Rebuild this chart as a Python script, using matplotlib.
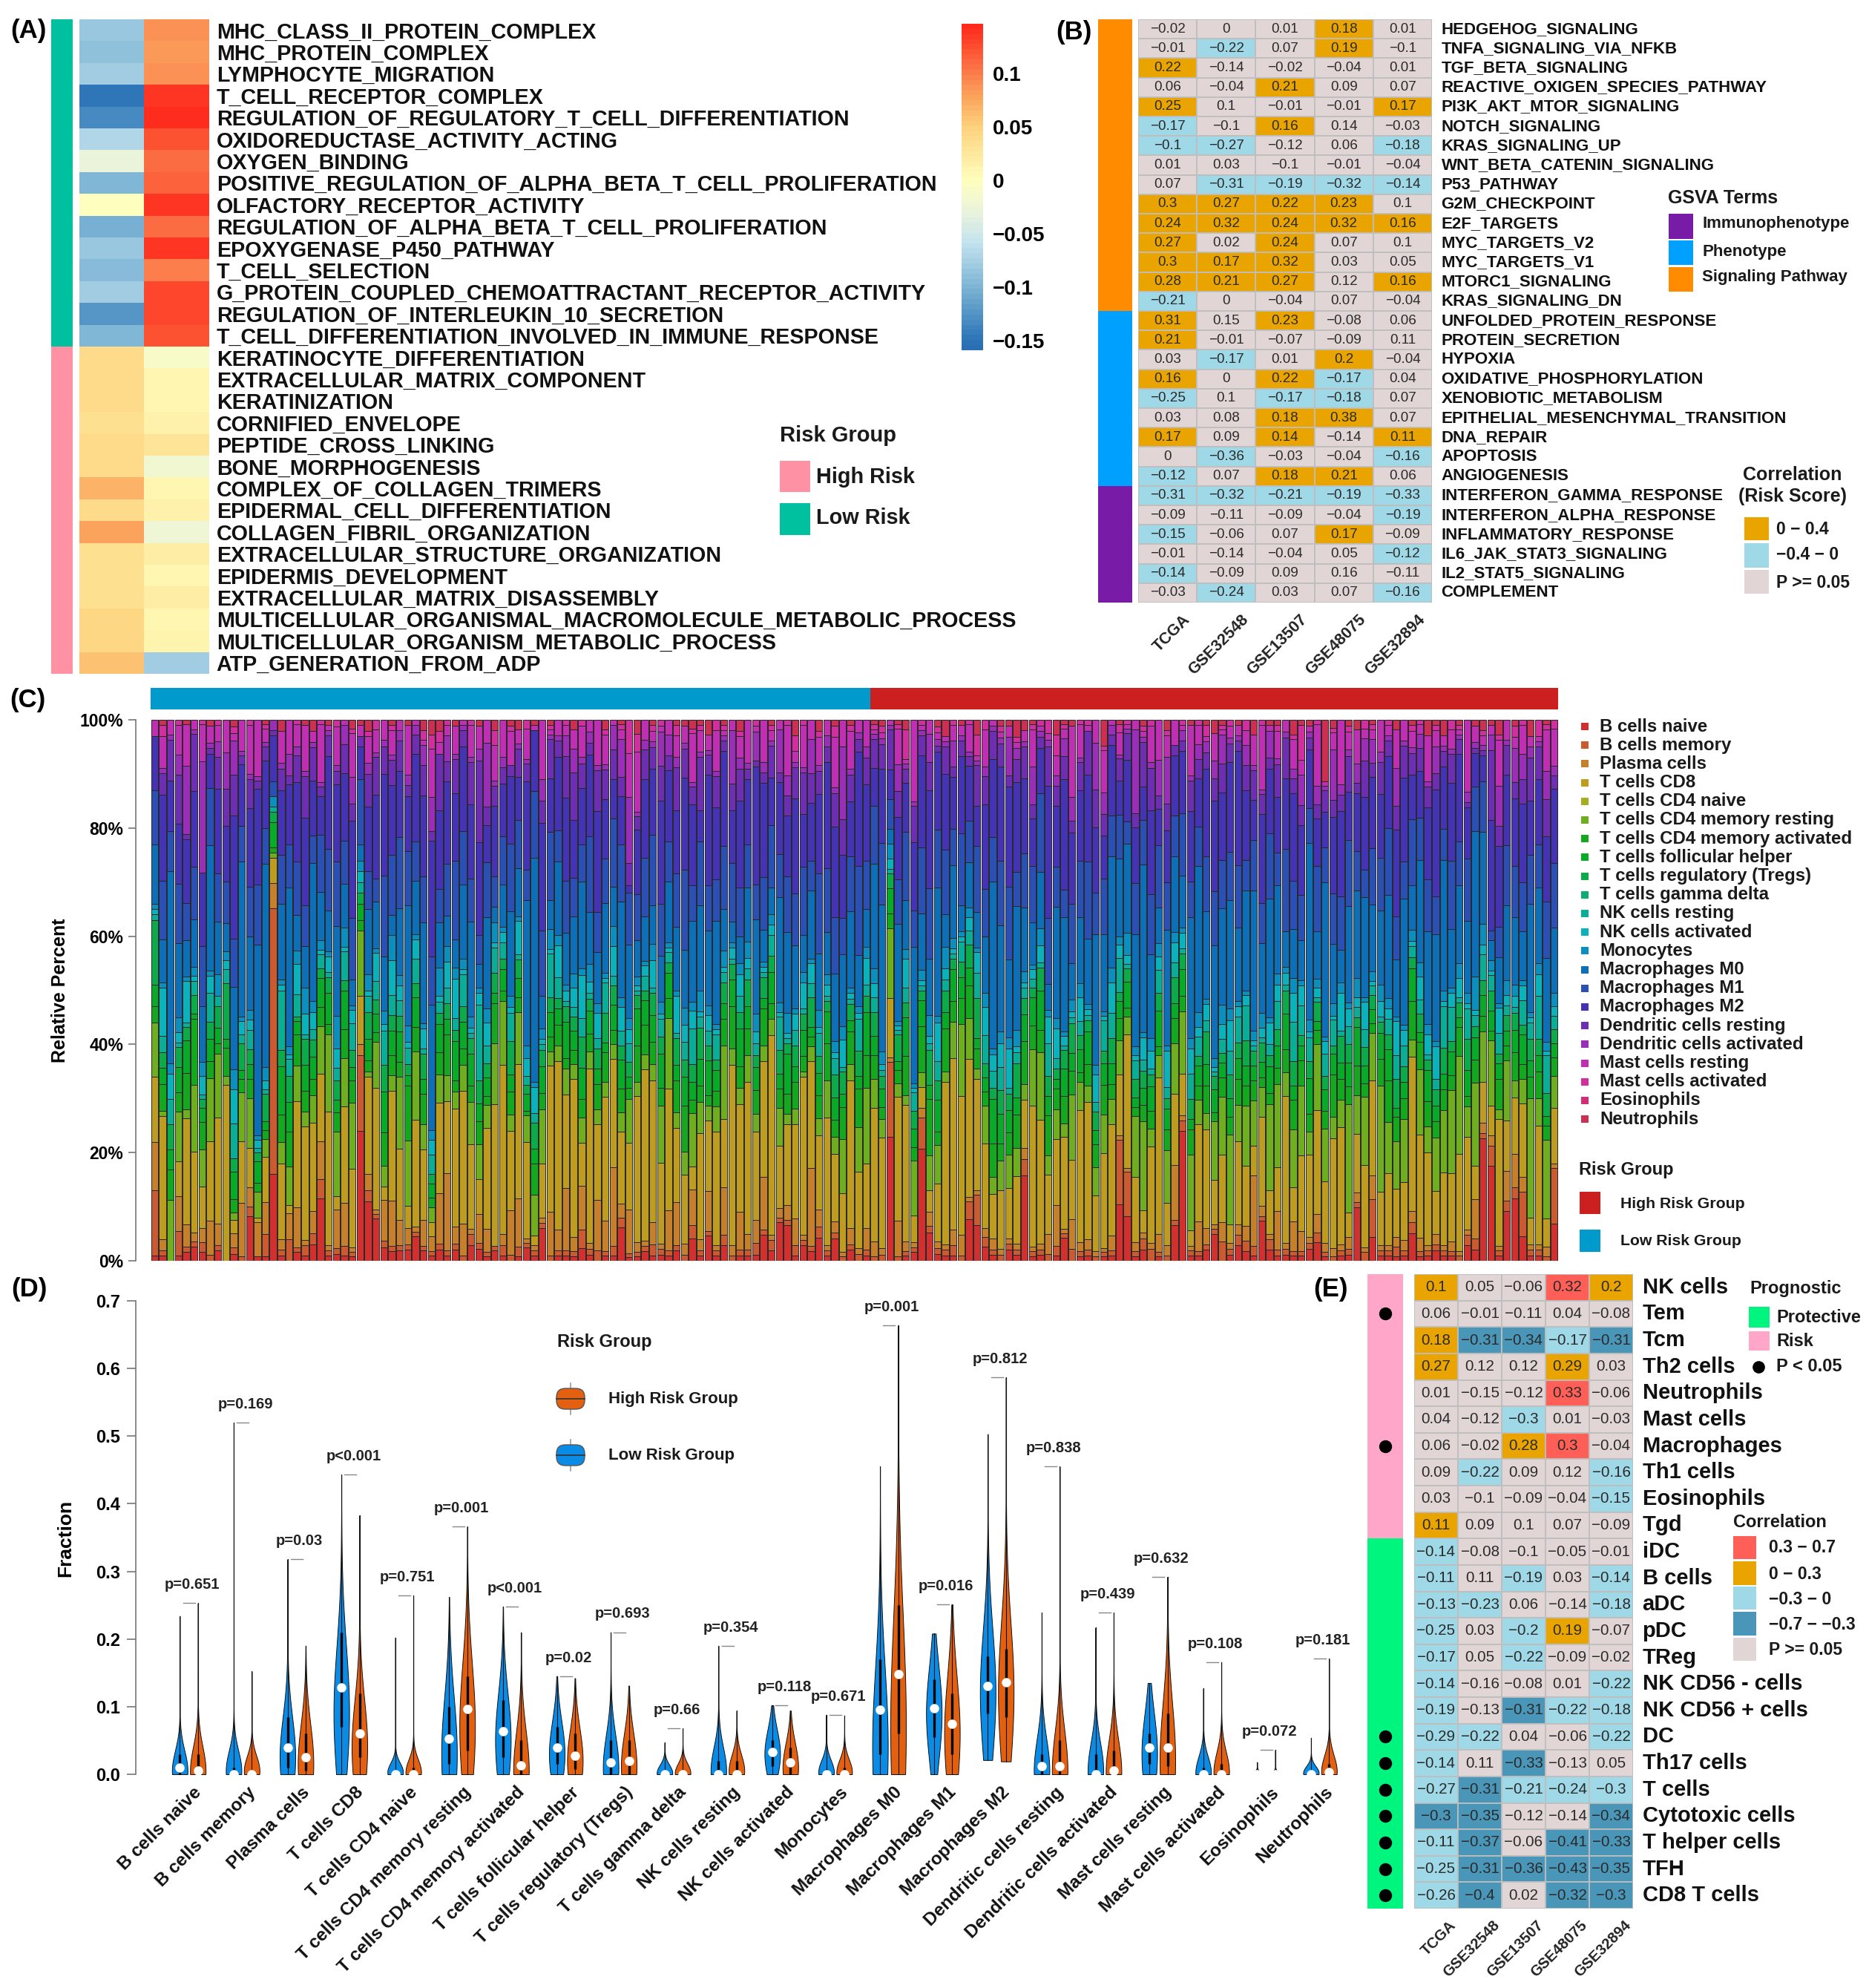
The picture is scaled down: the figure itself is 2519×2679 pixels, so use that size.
import numpy as np
import matplotlib
matplotlib.use("Agg")
import matplotlib.pyplot as plt
from matplotlib.colors import LinearSegmentedColormap, ListedColormap
from matplotlib.patches import Rectangle, FancyBboxPatch

W, H = 2519, 2679
plt.rcParams['font.family'] = ['Liberation Sans', 'DejaVu Sans']
plt.rcParams['font.weight'] = 'bold'
plt.rcParams['axes.labelweight'] = 'bold'
plt.rcParams['axes.unicode_minus'] = True

# ---------- panel A ----------
a_terms = ["MHC_CLASS_II_PROTEIN_COMPLEX", "MHC_PROTEIN_COMPLEX", "LYMPHOCYTE_MIGRATION", "T_CELL_RECEPTOR_COMPLEX",
           "REGULATION_OF_REGULATORY_T_CELL_DIFFERENTIATION", "OXIDOREDUCTASE_ACTIVITY_ACTING", "OXYGEN_BINDING",
           "POSITIVE_REGULATION_OF_ALPHA_BETA_T_CELL_PROLIFERATION", "OLFACTORY_RECEPTOR_ACTIVITY",
           "REGULATION_OF_ALPHA_BETA_T_CELL_PROLIFERATION", "EPOXYGENASE_P450_PATHWAY", "T_CELL_SELECTION",
           "G_PROTEIN_COUPLED_CHEMOATTRACTANT_RECEPTOR_ACTIVITY", "REGULATION_OF_INTERLEUKIN_10_SECRETION",
           "T_CELL_DIFFERENTIATION_INVOLVED_IN_IMMUNE_RESPONSE", "KERATINOCYTE_DIFFERENTIATION",
           "EXTRACELLULAR_MATRIX_COMPONENT", "KERATINIZATION", "CORNIFIED_ENVELOPE", "PEPTIDE_CROSS_LINKING",
           "BONE_MORPHOGENESIS", "COMPLEX_OF_COLLAGEN_TRIMERS", "EPIDERMAL_CELL_DIFFERENTIATION",
           "COLLAGEN_FIBRIL_ORGANIZATION", "EXTRACELLULAR_STRUCTURE_ORGANIZATION", "EPIDERMIS_DEVELOPMENT",
           "EXTRACELLULAR_MATRIX_DISASSEMBLY", "MULTICELLULAR_ORGANISMAL_MACROMOLECULE_METABOLIC_PROCESS",
           "MULTICELLULAR_ORGANISM_METABOLIC_PROCESS", "ATP_GENERATION_FROM_ADP"]
a_col1 = [-0.085, -0.09, -0.08, -0.15, -0.135, -0.07, -0.03, -0.10, 0.0, -0.105, -0.085, -0.095, -0.08, -0.125, -0.10,
          0.04, 0.04, 0.04, 0.035, 0.04, 0.04, 0.07, 0.04, 0.08, 0.035, 0.035, 0.035, 0.045, 0.045, 0.06]
a_col2 = [0.09, 0.085, 0.09, 0.14, 0.145, 0.125, 0.11, 0.115, 0.14, 0.11, 0.14, 0.10, 0.13, 0.13, 0.125,
          -0.01, 0.01, 0.01, 0.015, 0.03, -0.02, 0.01, 0.015, -0.025, 0.02, 0.01, 0.02, 0.01, 0.012, -0.08]
a_group = [0] * 15 + [1] * 15

# ---------- panel B ----------
b_terms = ["HEDGEHOG_SIGNALING", "TNFA_SIGNALING_VIA_NFKB", "TGF_BETA_SIGNALING", "REACTIVE_OXIGEN_SPECIES_PATHWAY",
           "PI3K_AKT_MTOR_SIGNALING", "NOTCH_SIGNALING", "KRAS_SIGNALING_UP", "WNT_BETA_CATENIN_SIGNALING", "P53_PATHWAY",
           "G2M_CHECKPOINT", "E2F_TARGETS", "MYC_TARGETS_V2", "MYC_TARGETS_V1", "MTORC1_SIGNALING", "KRAS_SIGNALING_DN",
           "UNFOLDED_PROTEIN_RESPONSE", "PROTEIN_SECRETION", "HYPOXIA", "OXIDATIVE_PHOSPHORYLATION",
           "XENOBIOTIC_METABOLISM", "EPITHELIAL_MESENCHYMAL_TRANSITION", "DNA_REPAIR", "APOPTOSIS", "ANGIOGENESIS",
           "INTERFERON_GAMMA_RESPONSE", "INTERFERON_ALPHA_RESPONSE", "INFLAMMATORY_RESPONSE", "IL6_JAK_STAT3_SIGNALING",
           "IL2_STAT5_SIGNALING", "COMPLEMENT"]
b_sets = ["TCGA", "GSE32548", "GSE13507", "GSE48075", "GSE32894"]
b_group = [2] * 15 + [1] * 9 + [0] * 6
b_tcga = [-0.02, -0.01, 0.22, 0.06, 0.25, -0.17, -0.1, 0.01, 0.07, 0.3, 0.24, 0.27, 0.3, 0.28, -0.21, 0.31, 0.21, 0.03, 0.16, -0.25, 0.03, 0.17, 0, -0.12, -0.31, -0.09, -0.15, -0.01, -0.14, -0.03]
b_32548 = [0, -0.22, -0.14, -0.04, 0.1, -0.1, -0.27, 0.03, -0.31, 0.27, 0.32, 0.02, 0.17, 0.21, 0, 0.15, -0.01, -0.17, 0, 0.1, 0.08, 0.09, -0.36, 0.07, -0.32, -0.11, -0.06, -0.14, -0.09, -0.24]
b_13507 = [0.01, 0.07, -0.02, 0.21, -0.01, 0.16, -0.12, -0.1, -0.19, 0.22, 0.24, 0.24, 0.32, 0.27, -0.04, 0.23, -0.07, 0.01, 0.22, -0.17, 0.18, 0.14, -0.03, 0.18, -0.21, -0.09, 0.07, -0.04, 0.09, 0.03]
b_48075 = [0.18, 0.19, -0.04, 0.09, -0.01, 0.14, 0.06, -0.01, -0.32, 0.23, 0.32, 0.07, 0.03, 0.12, 0.07, -0.08, -0.09, 0.2, -0.17, -0.18, 0.38, -0.14, -0.04, 0.21, -0.19, -0.04, 0.17, 0.05, 0.16, 0.07]
b_32894 = [0.01, -0.1, 0.01, 0.07, 0.17, -0.03, -0.18, -0.04, -0.14, 0.1, 0.16, 0.1, 0.05, 0.16, -0.04, 0.06, 0.11, -0.04, 0.04, 0.07, 0.07, 0.11, -0.16, 0.06, -0.33, -0.19, -0.09, -0.12, -0.11, -0.16]
b_sig_tcga = [0, 0, 1, 0, 1, 1, 1, 0, 0, 1, 1, 1, 1, 1, 1, 1, 1, 0, 1, 1, 0, 1, 0, 1, 1, 0, 1, 0, 1, 0]
b_sig_32548 = [0, 1, 0, 0, 0, 0, 1, 0, 1, 1, 1, 0, 1, 1, 0, 0, 0, 1, 0, 0, 0, 0, 1, 0, 1, 0, 0, 0, 0, 1]
b_sig_13507 = [0, 0, 0, 1, 0, 1, 0, 0, 1, 1, 1, 1, 1, 1, 0, 1, 0, 0, 1, 1, 1, 1, 0, 1, 1, 0, 0, 0, 0, 0]
b_sig_48075 = [1, 1, 0, 0, 0, 0, 0, 0, 1, 1, 1, 0, 0, 0, 0, 0, 0, 1, 1, 1, 1, 0, 0, 1, 1, 0, 1, 0, 0, 0]
b_sig_32894 = [0, 0, 0, 0, 1, 0, 1, 0, 1, 0, 1, 0, 0, 1, 0, 0, 0, 0, 0, 0, 0, 1, 1, 0, 1, 1, 0, 1, 0, 1]

# ---------- panel C, percent per sample, low risk first ----------
cell_types = ["B cells naive", "B cells memory", "Plasma cells", "T cells CD8", "T cells CD4 naive",
              "T cells CD4 memory resting", "T cells CD4 memory activated", "T cells follicular helper",
              "T cells regulatory (Tregs)", "T cells gamma delta", "NK cells resting", "NK cells activated",
              "Monocytes", "Macrophages M0", "Macrophages M1", "Macrophages M2", "Dendritic cells resting",
              "Dendritic cells activated", "Mast cells resting", "Mast cells activated", "Eosinophils", "Neutrophils"]
cell_colors = ["#D2302F", "#CC5A30", "#C67F2A", "#BD9C20", "#A5AE1C", "#6FAE1E", "#14A81E", "#08AB28", "#0AAB48",
               "#0CAD72", "#0AAE96", "#0AB2BC", "#0A8FBE", "#0C6FB8", "#2A50B6", "#4433B4", "#6E2EB4", "#9A2EB8",
               "#C02EB4", "#D22EA0", "#D22E78", "#CE2E52"]
n_low = 91
b_naive = [1, 1, 0, 1, 2, 3, 2, 0, 2, 0,
           1, 0, 9, 1, 1, 17, 1, 0, 2, 1,
           3, 13, 1, 1, 1, 1, 24, 11, 9, 2,
           2, 2, 2, 5, 2, 1, 2, 1, 2, 0,
           3, 2, 1, 2, 1, 0, 1, 3, 1, 6,
           0, 1, 1, 1, 2, 1, 0, 1, 1, 7,
           1, 1, 2, 1, 1, 1, 2, 0, 5, 1,
           5, 1, 3, 0, 1, 1, 1, 5, 2, 8,
           7, 1, 3, 2, 4, 1, 4, 0, 2, 0,
           1, 0, 0, 25, 0, 1, 2, 22, 4, 1,
           1, 1, 0, 9, 7, 3, 1, 0, 2, 1,
           16, 1, 1, 0, 1, 5, 0, 1, 1, 0,
           1, 1, 13, 10, 1, 2, 0, 1, 0, 7,
           25, 1, 1, 2, 6, 0, 1, 3, 2, 1,
           8, 2, 1, 1, 1, 1, 2, 4, 1, 0,
           1, 1, 11, 0, 5, 1, 1, 1, 1, 5,
           1, 1, 2, 1, 1, 0, 3, 2, 24, 19,
           1, 10, 11, 5, 1, 1, 0, 8]
b_memory = [12, 1, 0, 5, 1, 1, 2, 1, 1, 0,
            1, 1, 2, 0, 5, 52, 1, 5, 1, 2,
            2, 4, 1, 1, 2, 1, 14, 2, 1, 1,
            1, 1, 1, 1, 1, 1, 1, 1, 1, 1,
            2, 1, 1, 1, 2, 1, 2, 1, 1, 1,
            1, 1, 1, 1, 3, 1, 2, 1, 2, 2,
            1, 1, 1, 2, 1, 1, 1, 1, 3, 1,
            1, 1, 2, 1, 1, 1, 2, 1, 2, 1,
            1, 2, 1, 1, 2, 1, 1, 1, 1, 1,
            1, 1, 1, 15, 1, 1, 1, 6, 1, 1,
            1, 2, 1, 4, 6, 2, 1, 1, 1, 1,
            3, 1, 1, 1, 2, 1, 2, 1, 1, 1,
            1, 1, 15, 10, 1, 2, 2, 1, 1, 1,
            2, 1, 1, 1, 1, 4, 1, 2, 2, 2,
            1, 2, 1, 1, 1, 1, 1, 2, 1, 1,
            1, 1, 1, 2, 8, 1, 1, 2, 1, 2,
            1, 1, 1, 1, 1, 1, 2, 2, 1, 4,
            1, 2, 2, 9, 1, 1, 1, 12]
plasma = [9, 2, 0, 7, 5, 2, 3, 6, 4, 0,
          2, 12, 4, 8, 7, 5, 2, 6, 9, 1,
          4, 8, 1, 6, 9, 1, 2, 3, 1, 6,
          9, 5, 3, 1, 5, 3, 9, 15, 3, 6,
          1, 5, 5, 0, 2, 8, 10, 1, 1, 1,
          9, 4, 12, 3, 7, 1, 10, 6, 16, 3,
          12, 2, 1, 4, 1, 8, 8, 2, 8, 2,
          8, 1, 9, 2, 7, 3, 4, 10, 1, 2,
          3, 5, 1, 16, 3, 1, 2, 1, 3, 1,
          4, 3, 1, 1, 8, 2, 1, 2, 2, 1,
          1, 3, 4, 1, 1, 2, 2, 1, 1, 1,
          2, 1, 1, 3, 8, 1, 5, 2, 2, 1,
          1, 3, 1, 1, 2, 1, 1, 4, 2, 11,
          1, 1, 6, 3, 1, 4, 1, 2, 3, 14,
          2, 1, 7, 1, 6, 4, 1, 4, 2, 2,
          1, 2, 2, 1, 5, 1, 1, 2, 2, 2,
          3, 1, 2, 1, 2, 1, 1, 7, 2, 2,
          1, 6, 6, 3, 1, 1, 2, 1]
t_cd8 = [12, 23, 0, 7, 23, 17, 9, 14, 20, 38,
         2, 14, 8, 1, 10, 5, 14, 2, 24, 22,
         16, 14, 26, 2, 20, 18, 9, 18, 26, 2,
         22, 14, 4, 22, 14, 3, 16, 14, 21, 25,
         16, 6, 22, 28, 32, 14, 28, 22, 2, 10,
         30, 32, 18, 33, 7, 30, 15, 25, 22, 15,
         18, 32, 35, 26, 14, 24, 14, 12, 5, 20,
         14, 22, 13, 34, 20, 28, 15, 22, 38, 13,
         16, 18, 30, 22, 13, 24, 12, 13, 27, 12,
         12, 28, 18, 12, 28, 28, 6, 4, 3, 9,
         30, 33, 27, 30, 22, 18, 8, 10, 9, 12,
         9, 30, 22, 9, 13, 20, 10, 28, 25, 12,
         22, 22, 14, 30, 14, 4, 16, 35, 8, 14,
         8, 3, 20, 18, 10, 14, 3, 16, 12, 6,
         18, 8, 8, 25, 7, 15, 14, 22, 14, 26,
         22, 4, 12, 18, 20, 10, 14, 10, 11, 28,
         22, 18, 8, 14, 14, 20, 18, 6, 8, 6,
         25, 10, 10, 15, 5, 22, 6, 12]
t_cd4_naive = [0] * 178
t_cd4_rest = [10, 1, 12, 10, 2, 14, 8, 11, 12, 2,
              1, 11, 10, 6, 4, 1, 4, 9, 8, 3,
              5, 10, 15, 10, 10, 15, 12, 1, 10, 3,
              3, 14, 12, 14, 5, 3, 5, 5, 3, 5,
              8, 6, 5, 12, 12, 3, 11, 6, 8, 10,
              3, 3, 5, 3, 4, 3, 3, 3, 3, 4,
              12, 3, 3, 3, 10, 14, 3, 4, 12, 6,
              3, 5, 14, 3, 3, 5, 3, 3, 3, 8,
              2, 3, 1, 3, 3, 7, 3, 12, 3, 7,
              14, 6, 3, 14, 3, 2, 12, 3, 5, 6,
              2, 7, 14, 9, 2, 8, 3, 5, 6, 5,
              3, 12, 12, 3, 6, 3, 11, 6, 3, 6,
              9, 5, 8, 4, 13, 16, 3, 5, 10, 10,
              12, 15, 5, 3, 13, 12, 15, 7, 12, 9,
              6, 16, 15, 4, 12, 14, 4, 14, 12, 5,
              5, 18, 8, 15, 10, 20, 10, 10, 12, 3,
              14, 5, 10, 12, 17, 20, 6, 15, 10, 13,
              2, 12, 3, 5, 22, 5, 17, 7]
t_cd4_act = [3, 5, 6, 4, 8, 14, 6, 3, 2, 6,
             2, 3, 4, 2, 2, 1, 5, 8, 7, 4,
             3, 4, 2, 3, 6, 5, 2, 2, 2, 5,
             4, 3, 10, 5, 6, 2, 4, 8, 2, 3,
             3, 4, 2, 8, 2, 4, 3, 1, 6, 3,
             3, 4, 2, 3, 3, 3, 5, 6, 3, 5,
             3, 8, 6, 4, 3, 4, 6, 8, 3, 3,
             2, 3, 5, 8, 4, 5, 4, 7, 3, 4,
             4, 5, 3, 2, 4, 7, 3, 7, 6, 6,
             6, 5, 2, 3, 3, 8, 3, 9, 8, 2,
             8, 4, 5, 7, 4, 3, 6, 3, 4, 6,
             8, 5, 4, 6, 4, 6, 4, 2, 4, 5,
             7, 3, 5, 2, 2, 3, 3, 2, 4, 5,
             3, 5, 3, 5, 2, 4, 3, 5, 4, 4,
             2, 2, 3, 4, 6, 5, 3, 3, 4, 10,
             4, 3, 6, 3, 2, 5, 8, 5, 4, 7,
             6, 5, 3, 4, 3, 6, 2, 4, 3, 2,
             6, 3, 5, 3, 4, 5, 3, 4]
t_fh = [4, 3, 4, 5, 7, 1, 3, 4, 3, 2,
        4, 2, 3, 5, 2, 5, 9, 7, 3, 5,
        4, 6, 6, 2, 8, 3, 3, 4, 4, 6,
        5, 6, 2, 6, 3, 3, 5, 3, 7, 5,
        6, 3, 4, 2, 4, 3, 4, 4, 3, 5,
        5, 3, 7, 4, 5, 4, 3, 2, 5, 6,
        3, 8, 5, 5, 6, 5, 3, 5, 4, 5,
        7, 4, 3, 5, 7, 4, 4, 2, 6, 3,
        8, 3, 5, 2, 4, 6, 4, 3, 2, 2,
        8, 4, 3, 5, 2, 8, 4, 5, 2, 5,
        3, 6, 4, 4, 2, 3, 8, 5, 4, 3,
        5, 6, 7, 3, 2, 6, 3, 5, 6, 3,
        5, 4, 4, 6, 2, 3, 4, 8, 4, 3,
        5, 2, 4, 4, 5, 3, 3, 4, 4, 3,
        3, 5, 4, 6, 3, 3, 6, 2, 5, 5,
        3, 4, 8, 4, 3, 5, 6, 2, 3, 6,
        2, 6, 3, 3, 5, 2, 5, 4, 4, 4,
        3, 3, 4, 6, 3, 3, 2, 3]
t_reg = [12, 3, 5, 4, 3, 4, 2, 3, 4, 12,
         2, 6, 3, 2, 6, 2, 3, 6, 1, 5,
         3, 2, 3, 3, 2, 4, 2, 5, 3, 4,
         3, 3, 2, 3, 5, 2, 2, 3, 2, 3,
         3, 4, 3, 4, 2, 6, 4, 2, 5, 3,
         3, 2, 3, 3, 5, 2, 4, 6, 4, 3,
         4, 3, 2, 4, 3, 2, 5, 3, 4, 6,
         3, 2, 4, 3, 3, 5, 2, 4, 3, 5,
         2, 4, 3, 6, 3, 2, 4, 5, 3, 4,
         3, 5, 2, 3, 6, 3, 4, 2, 5, 3,
         4, 2, 3, 5, 8, 3, 2, 4, 3, 6,
         3, 2, 4, 3, 2, 4, 5, 3, 2, 4,
         3, 5, 2, 3, 4, 3, 2, 4, 2, 5,
         3, 4, 2, 6, 3, 2, 4, 3, 5, 3,
         4, 2, 3, 4, 5, 2, 3, 4, 3, 2,
         5, 3, 2, 4, 3, 2, 3, 6, 3, 2,
         4, 2, 3, 5, 2, 3, 6, 2, 3, 4,
         2, 3, 3, 2, 4, 3, 5, 3]
t_gd = [0] * 178
nk_rest = [1, 3, 5, 1, 1, 3, 1, 5, 2, 3,
           5, 2, 4, 1, 1, 1, 11, 4, 5, 1,
           2, 3, 1, 2, 6, 6, 2, 3, 4, 5,
           4, 3, 3, 5, 1, 4, 2, 3, 2, 6,
           1, 13, 4, 5, 3, 5, 1, 2, 2, 1,
           9, 4, 1, 2, 3, 1, 2, 6, 2, 3,
           5, 1, 3, 1, 3, 2, 1, 3, 8, 2,
           3, 5, 2, 1, 3, 2, 2, 1, 4, 7,
           1, 3, 1, 3, 4, 1, 3, 1, 1, 5,
           2, 3, 1, 1, 1, 3, 4, 1, 1, 3,
           2, 1, 4, 3, 5, 6, 3, 4, 1, 2,
           2, 2, 1, 5, 2, 1, 1, 3, 1, 2,
           7, 5, 8, 1, 4, 2, 1, 5, 2, 3,
           1, 5, 4, 2, 1, 3, 4, 5, 7, 1,
           1, 2, 5, 1, 8, 6, 4, 1, 5, 6,
           1, 3, 2, 4, 2, 1, 3, 5, 4, 2,
           3, 1, 2, 8, 7, 1, 6, 2, 5, 3,
           4, 2, 1, 5, 3, 8, 8, 3]
nk_act = [1, 9, 5, 2, 9, 1, 4, 3, 0, 2,
          5, 3, 2, 2, 2, 0, 1, 1, 7, 4,
          3, 1, 3, 3, 1, 3, 2, 1, 6, 1,
          7, 3, 1, 4, 4, 3, 1, 5, 7, 1,
          1, 2, 5, 1, 2, 1, 7, 4, 5, 1,
          1, 6, 2, 4, 7, 2, 5, 1, 6, 5,
          4, 1, 2, 5, 1, 1, 7, 3, 4, 1,
          3, 1, 1, 2, 4, 2, 2, 1, 2, 1,
          1, 3, 5, 4, 1, 2, 1, 6, 1, 1,
          5, 3, 1, 2, 1, 6, 1, 1, 1, 6,
          2, 1, 1, 3, 4, 6, 3, 4, 7, 1,
          1, 2, 3, 4, 6, 2, 1, 5, 1, 6,
          1, 6, 3, 2, 1, 4, 3, 3, 7, 4,
          3, 5, 2, 3, 1, 3, 5, 2, 2, 1,
          2, 4, 3, 2, 6, 4, 1, 2, 3, 1,
          7, 3, 2, 6, 1, 3, 2, 7, 3, 1,
          5, 4, 6, 1, 3, 4, 1, 1, 2, 1,
          5, 2, 2, 3, 1, 4, 1, 2]
monocytes = [1, 1, 2, 3, 1, 2, 3, 1, 4, 2,
             3, 1, 2, 1, 3, 2, 1, 2, 3, 5,
             2, 2, 1, 5, 4, 1, 2, 3, 1, 2,
             5, 2, 3, 1, 1, 2, 5, 3, 2, 2,
             2, 1, 3, 4, 1, 2, 1, 3, 1, 2,
             4, 2, 1, 3, 1, 3, 2, 1, 4, 2,
             3, 2, 1, 3, 2, 1, 1, 3, 2, 4,
             2, 1, 3, 1, 2, 3, 3, 1, 2, 2,
             4, 1, 2, 1, 3, 2, 2, 3, 1, 1,
             2, 3, 2, 3, 1, 2, 1, 2, 3, 1,
             4, 2, 1, 2, 1, 3, 1, 2, 2, 3,
             2, 1, 3, 1, 2, 1, 2, 3, 1, 2,
             1, 3, 2, 5, 2, 1, 2, 3, 1, 2,
             1, 2, 3, 1, 2, 4, 2, 1, 1, 2,
             3, 1, 2, 1, 3, 1, 2, 2, 1, 3,
             2, 1, 4, 1, 2, 3, 2, 1, 1, 2,
             3, 2, 1, 2, 1, 3, 2, 6, 4, 2,
             1, 3, 2, 1, 1, 2, 2, 3]
m0 = [11, 8, 38, 15, 8, 10, 12, 22, 10, 6,
      12, 35, 15, 44, 45, 0, 14, 37, 8, 8,
      25, 10, 8, 14, 9, 6, 3, 12, 10, 8,
      4, 13, 22, 11, 20, 26, 8, 6, 5, 14,
      18, 4, 20, 3, 8, 15, 10, 33, 44, 6,
      6, 14, 10, 12, 14, 9, 10, 14, 8, 20,
      20, 8, 9, 7, 8, 12, 12, 10, 18, 16,
      15, 20, 8, 4, 5, 10, 16, 6, 5, 22,
      16, 12, 7, 14, 10, 8, 12, 16, 14, 8,
      7, 22, 24, 3, 22, 10, 30, 11, 8, 20,
      6, 14, 5, 10, 7, 12, 30, 18, 14, 22,
      12, 9, 10, 4, 22, 25, 6, 14, 12, 28,
      18, 22, 18, 20, 24, 30, 14, 8, 22, 15,
      10, 24, 30, 16, 25, 20, 18, 14, 20, 28,
      14, 22, 16, 6, 10, 8, 30, 10, 35, 14,
      6, 16, 18, 22, 14, 14, 20, 12, 24, 8,
      22, 18, 20, 25, 12, 16, 14, 26, 18, 4,
      9, 15, 12, 10, 20, 14, 18, 14]
m1 = [10, 11, 8, 12, 8, 11, 13, 10, 9, 9,
      7, 8, 10, 14, 8, 3, 9, 10, 12, 8,
      5, 12, 12, 10, 9, 14, 12, 7, 5, 12,
      12, 14, 10, 8, 9, 10, 6, 10, 14, 10,
      8, 5, 12, 6, 9, 12, 10, 7, 13, 12,
      14, 6, 10, 8, 6, 13, 8, 9, 14, 12,
      14, 10, 12, 13, 9, 8, 10, 14, 8, 12,
      9, 8, 12, 11, 9, 8, 6, 10, 12, 9,
      11, 10, 13, 6, 14, 12, 10, 8, 10, 14,
      9, 12, 10, 6, 10, 14, 8, 13, 10, 9,
      12, 7, 14, 9, 13, 10, 8, 11, 13, 6,
      10, 12, 14, 10, 8, 6, 10, 12, 14, 9,
      13, 8, 10, 5, 11, 8, 10, 14, 9, 8,
      12, 7, 8, 10, 12, 10, 8, 12, 6, 10,
      8, 12, 6, 14, 10, 9, 6, 14, 8, 12,
      10, 11, 8, 6, 12, 10, 13, 9, 7, 12,
      9, 10, 7, 6, 14, 9, 12, 8, 10, 2,
      6, 12, 9, 10, 9, 8, 12, 14]
m2 = [10, 16, 10, 12, 14, 16, 16, 6, 16, 12,
      18, 14, 16, 22, 15, 9, 12, 14, 18, 17,
      10, 8, 18, 12, 14, 22, 6, 12, 18, 15,
      14, 13, 10, 18, 16, 24, 14, 16, 12, 16,
      14, 16, 8, 14, 10, 12, 9, 20, 12, 20,
      11, 14, 16, 12, 9, 14, 20, 12, 8, 10,
      2, 14, 16, 12, 18, 14, 12, 16, 18, 6,
      22, 14, 18, 10, 16, 12, 20, 18, 9, 15,
      12, 18, 10, 12, 14, 20, 16, 14, 10, 18,
      14, 8, 12, 6, 14, 10, 15, 18, 14, 12,
      14, 10, 15, 12, 8, 18, 14, 16, 18, 16,
      14, 10, 8, 20, 12, 24, 12, 15, 16, 14,
      10, 14, 8, 14, 12, 6, 14, 8, 10, 12,
      12, 14, 10, 16, 20, 14, 15, 22, 14, 8,
      18, 12, 10, 12, 18, 14, 10, 10, 8, 18,
      16, 8, 12, 16, 15, 12, 14, 18, 16, 8,
      10, 14, 20, 12, 16, 18, 10, 6, 5, 22,
      16, 14, 12, 16, 10, 12, 14, 16]
dc_rest = [0, 4, 8, 10, 1, 12, 0, 1, 6, 8,
           6, 2, 6, 2, 3, 1, 4, 2, 6, 8,
           6, 2, 4, 2, 6, 4, 2, 6, 8, 4,
           5, 6, 2, 4, 6, 2, 10, 4, 6, 3,
           8, 14, 4, 4, 3, 2, 6, 4, 0, 4,
           8, 3, 8, 10, 4, 2, 8, 6, 6, 4,
           6, 3, 6, 4, 6, 3, 8, 5, 4, 10,
           4, 6, 2, 5, 6, 2, 1, 2, 6, 2,
           4, 6, 8, 6, 4, 3, 6, 8, 5, 2,
           5, 6, 4, 8, 6, 3, 8, 4, 4, 1,
           5, 2, 3, 2, 8, 6, 5, 4, 2, 4,
           6, 3, 2, 6, 4, 5, 2, 6, 8, 8,
           5, 2, 5, 6, 3, 8, 7, 3, 5, 2,
           2, 6, 4, 3, 5, 6, 3, 2, 5, 6,
           4, 2, 6, 7, 3, 4, 2, 3, 5, 4,
           3, 6, 2, 8, 3, 6, 3, 5, 6, 4,
           5, 4, 3, 3, 6, 3, 1, 1, 1, 14,
           4, 6, 3, 5, 8, 6, 8, 3]
dc_act = [0, 1, 1, 4, 15, 1, 24, 1, 3, 8,
          5, 1, 1, 1, 1, 2, 1, 5, 2, 1,
          1, 1, 1, 1, 4, 6, 0, 2, 1, 1,
          1, 2, 2, 2, 4, 7, 0, 5, 1, 1,
          1, 2, 14, 1, 2, 0, 1, 1, 0, 4,
          1, 1, 4, 5, 1, 2, 1, 1, 5, 8,
          18, 1, 2, 1, 6, 4, 2, 1, 1, 1,
          1, 1, 1, 10, 2, 1, 5, 2, 1, 9,
          4, 1, 1, 7, 1, 2, 1, 16, 1, 1,
          2, 1, 1, 1, 6, 1, 1, 1, 4, 1,
          1, 5, 1, 1, 1, 2, 1, 1, 7, 2,
          1, 8, 1, 1, 2, 4, 4, 1, 0, 10,
          5, 2, 1, 1, 18, 1, 1, 8, 9, 0,
          2, 1, 3, 2, 4, 6, 1, 1, 4, 1,
          1, 5, 1, 1, 2, 6, 1, 4, 1, 12,
          2, 1, 4, 5, 5, 2, 1, 8, 1, 1,
          3, 1, 5, 1, 1, 1, 2, 1, 1, 3,
          8, 1, 6, 5, 2, 1, 6, 2]
mast_rest = [3, 6, 3, 6, 9, 2, 8, 3, 3, 7,
             1, 7, 10, 13, 3, 0, 6, 8, 5, 9,
             2, 12, 1, 6, 1, 10, 2, 5, 5, 3,
             5, 2, 9, 1, 1, 10, 2, 2, 5, 1,
             6, 4, 5, 7, 7, 6, 3, 7, 1, 11,
             1, 3, 2, 4, 5, 2, 9, 6, 1, 2,
             12, 13, 4, 2, 1, 3, 4, 3, 11, 4,
             3, 8, 1, 2, 4, 8, 1, 8, 2, 2,
             10, 2, 8, 4, 5, 3, 9, 6, 7, 2,
             5, 1, 1, 1, 8, 1, 18, 1, 2, 1,
             1, 3, 2, 6, 1, 8, 1, 1, 2, 1,
             2, 8, 1, 1, 4, 2, 12, 7, 1, 5,
             10, 1, 5, 1, 2, 1, 6, 9, 4, 5,
             1, 10, 4, 1, 6, 1, 2, 2, 3, 6,
             13, 1, 5, 2, 6, 3, 1, 13, 1, 4,
             12, 3, 7, 2, 2, 6, 2, 8, 4, 3,
             2, 9, 3, 2, 4, 1, 14, 3, 2, 2,
             9, 4, 2, 6, 2, 1, 9, 8]
mast_act = [0, 2, 0, 1, 0, 0, 1, 0, 1, 0,
            1, 0, 1, 0, 1, 0, 0, 0, 1, 0,
            0, 1, 0, 1, 0, 1, 0, 1, 2, 0,
            1, 0, 0, 0, 2, 3, 2, 1, 0, 0,
            1, 0, 0, 3, 0, 1, 0, 2, 0, 0,
            1, 0, 1, 0, 1, 0, 0, 1, 0, 1,
            9, 4, 0, 1, 1, 0, 2, 0, 1, 1,
            0, 2, 1, 0, 1, 0, 1, 0, 1, 0,
            1, 3, 1, 0, 1, 0, 2, 0, 1, 0,
            0, 1, 1, 0, 1, 6, 0, 1, 0, 1,
            0, 1, 0, 1, 4, 2, 0, 1, 0, 1,
            0, 1, 1, 2, 4, 1, 0, 1, 1, 0,
            1, 0, 2, 1, 0, 1, 1, 0, 1, 0,
            1, 0, 1, 2, 0, 1, 1, 0, 2, 0,
            1, 0, 1, 0, 1, 7, 0, 1, 0, 1,
            0, 1, 0, 2, 1, 0, 1, 0, 0, 1,
            1, 0, 1, 0, 2, 1, 0, 0, 1, 0,
            1, 0, 2, 1, 0, 3, 1, 2]
eosinophils = [0] * 178
neutrophils = [0, 1, 0, 0, 1, 0, 0, 1, 0, 0,
               1, 0, 0, 0, 1, 0, 2, 0, 0, 1,
               2, 0, 1, 0, 0, 2, 1, 2, 0, 0,
               1, 0, 1, 0, 2, 3, 2, 0, 1, 0,
               0, 1, 0, 2, 0, 1, 2, 0, 1, 0,
               1, 0, 0, 2, 0, 0, 0, 2, 0, 1,
               0, 3, 0, 1, 0, 0, 1, 1, 2, 1,
               3, 0, 1, 0, 2, 0, 0, 0, 1, 0,
               0, 3, 0, 0, 2, 0, 1, 0, 1, 0,
               0, 1, 1, 0, 1, 2, 0, 0, 0, 1,
               3, 0, 1, 0, 3, 0, 0, 1, 1, 3,
               2, 1, 0, 0, 3, 1, 1, 0, 0, 0,
               6, 0, 1, 0, 0, 1, 0, 0, 2, 0,
               0, 1, 0, 1, 3, 1, 0, 1, 0, 3,
               0, 1, 1, 0, 3, 1, 1, 0, 14, 2,
               0, 1, 2, 0, 1, 0, 0, 2, 0, 1,
               0, 3, 1, 3, 0, 1, 0, 1, 2, 1,
               3, 0, 1, 0, 3, 0, 1, 0]
cell_series = [b_naive, b_memory, plasma, t_cd8, t_cd4_naive, t_cd4_rest, t_cd4_act, t_fh, t_reg, t_gd, nk_rest,
               nk_act, monocytes, m0, m1, m2, dc_rest, dc_act, mast_rest, mast_act, eosinophils, neutrophils]

# ---------- panel D ----------
low_max = [0.234, 0.52, 0.318, 0.443, 0.202, 0.262, 0.248, 0.145, 0.21, 0.047, 0.19, 0.102, 0.088, 0.455, 0.208, 0.503, 0.239, 0.217, 0.135, 0.127, 0.018, 0.054]
high_max = [0.253, 0.152, 0.19, 0.383, 0.264, 0.366, 0.21, 0.142, 0.131, 0.068, 0.094, 0.094, 0.087, 0.664, 0.251, 0.587, 0.455, 0.239, 0.292, 0.166, 0.036, 0.171]
low_min = [0] * 15 + [0.021] + [0] * 6
high_min = [0] * 15 + [0.019] + [0] * 6
low_med = [0.01, 0, 0.04, 0.128, 0, 0.053, 0.064, 0.039, 0.018, 0, 0, 0.033, 0, 0.095, 0.098, 0.131, 0.012, 0, 0.04, 0, 0, 0]
high_med = [0.006, 0, 0.025, 0.06, 0, 0.097, 0.013, 0.027, 0.02, 0, 0, 0.018, 0, 0.148, 0.075, 0.136, 0.012, 0.006, 0.039, 0, 0, 0.003]
low_q1 = [0, 0, 0.01, 0.07, 0, 0.015, 0.025, 0.015, 0, 0, 0, 0.012, 0, 0.03, 0.055, 0.09, 0, 0, 0.015, 0, 0, 0]
low_q3 = [0.03, 0.01, 0.085, 0.21, 0.005, 0.1, 0.11, 0.07, 0.05, 0.003, 0.02, 0.05, 0.008, 0.17, 0.14, 0.175, 0.03, 0.03, 0.06, 0.01, 0, 0]
high_q1 = [0, 0, 0.005, 0.025, 0, 0.035, 0, 0.008, 0, 0, 0, 0, 0, 0.06, 0.03, 0.085, 0, 0, 0.012, 0, 0, 0]
high_q3 = [0.03, 0.005, 0.06, 0.12, 0.01, 0.145, 0.05, 0.06, 0.05, 0.005, 0.02, 0.04, 0.01, 0.25, 0.12, 0.185, 0.05, 0.035, 0.09, 0.015, 0, 0.015]
low_mode = [0.005, 0.005, 0.025, 0.09, 0.003, 0.03, 0.05, 0.03, 0.01, 0.002, 0.005, 0.03, 0.003, 0.04, 0.09, 0.12, 0.005, 0.005, 0.03, 0.002, 0.001, 0.002]
low_spread = [0.03, 0.03, 0.06, 0.1, 0.014, 0.085, 0.07, 0.048, 0.048, 0.012, 0.035, 0.036, 0.018, 0.12, 0.07, 0.095, 0.048, 0.042, 0.06, 0.024, 0.004, 0.01]
high_mode = [0.005, 0.005, 0.015, 0.04, 0.003, 0.07, 0.005, 0.02, 0.012, 0.002, 0.005, 0.01, 0.003, 0.07, 0.06, 0.12, 0.005, 0.003, 0.02, 0.003, 0.001, 0.004]
high_spread = [0.036, 0.022, 0.06, 0.072, 0.019, 0.095, 0.06, 0.048, 0.048, 0.014, 0.024, 0.036, 0.019, 0.165, 0.085, 0.105, 0.06, 0.048, 0.085, 0.03, 0.004, 0.024]
p_labels = ["p=0.651", "p=0.169", "p=0.03", "p<0.001", "p=0.751", "p=0.001", "p<0.001", "p=0.02", "p=0.693", "p=0.66", "p=0.354",
            "p=0.118", "p=0.671", "p=0.001", "p=0.016", "p=0.812", "p=0.838", "p=0.439", "p=0.632", "p=0.108", "p=0.072", "p=0.181"]

# ---------- panel E ----------
e_cells = ["NK cells", "Tem", "Tcm", "Th2 cells", "Neutrophils", "Mast cells", "Macrophages", "Th1 cells", "Eosinophils", "Tgd",
           "iDC", "B cells", "aDC", "pDC", "TReg", "NK CD56 - cells", "NK CD56 + cells", "DC", "Th17 cells", "T cells",
           "Cytotoxic cells", "T helper cells", "TFH", "CD8 T cells"]
e_group = [0] * 10 + [1] * 14
e_dot = [1, 6, 17, 18, 19, 20, 21, 22, 23]
e_tcga = [0.1, 0.06, 0.18, 0.27, 0.01, 0.04, 0.06, 0.09, 0.03, 0.11, -0.14, -0.11, -0.13, -0.25, -0.17, -0.14, -0.19, -0.29, -0.14, -0.27, -0.3, -0.11, -0.25, -0.26]
e_32548 = [0.05, -0.01, -0.31, 0.12, -0.15, -0.12, -0.02, -0.22, -0.1, 0.09, -0.08, 0.11, -0.23, 0.03, 0.05, -0.16, -0.13, -0.22, 0.11, -0.31, -0.35, -0.37, -0.31, -0.4]
e_13507 = [-0.06, -0.11, -0.34, 0.12, -0.12, -0.3, 0.28, 0.09, -0.09, 0.1, -0.1, -0.19, 0.06, -0.2, -0.22, -0.08, -0.31, 0.04, -0.33, -0.21, -0.12, -0.06, -0.36, 0.02]
e_48075 = [0.32, 0.04, -0.17, 0.29, 0.33, 0.01, 0.3, 0.12, -0.04, 0.07, -0.05, 0.03, -0.14, 0.19, -0.09, 0.01, -0.22, -0.06, -0.13, -0.24, -0.14, -0.41, -0.43, -0.32]
e_32894 = [0.2, -0.08, -0.31, 0.03, -0.06, -0.03, -0.04, -0.16, -0.15, -0.09, -0.01, -0.14, -0.18, -0.07, -0.02, -0.22, -0.18, -0.22, 0.05, -0.3, -0.34, -0.33, -0.35, -0.3]
e_sig_tcga = [1, 0, 1, 1, 0, 0, 0, 0, 0, 1, 1, 1, 1, 1, 1, 1, 1, 1, 1, 1, 2, 1, 1, 1]
e_sig_32548 = [0, 0, 2, 0, 0, 0, 0, 1, 0, 0, 0, 0, 1, 0, 0, 0, 0, 1, 0, 2, 2, 2, 2, 2]
e_sig_13507 = [0, 0, 2, 0, 0, 1, 1, 0, 0, 0, 0, 1, 0, 1, 1, 0, 2, 0, 2, 1, 0, 0, 2, 0]
e_sig_48075 = [2, 0, 1, 1, 2, 0, 2, 0, 0, 0, 0, 0, 0, 1, 0, 0, 1, 0, 0, 1, 0, 2, 2, 2]
e_sig_32894 = [1, 0, 2, 0, 0, 0, 0, 1, 1, 0, 0, 1, 1, 0, 0, 1, 1, 1, 0, 1, 2, 2, 2, 2]

ORANGE, LBLUE, DBLUE, RED, NS = "#E9A400", "#9FD8E6", "#4A96B8", "#FF5F57", "#E2D5D5"
BLUE_V, ORANGE_V = "#0A8BE6", "#E2600F"


def box(x0, y0, x1, y1):
    # axes from a pixel box, y counted from the top
    return fig.add_axes([x0 / W, 1 - y1 / H, (x1 - x0) / W, (y1 - y0) / H])


def fmt(v):
    return ("%g" % v).replace("-", "\u2212")


def strip(x0, y0, x1, y1, groups, colors):
    ax = box(x0, y0, x1, y1)
    ax.imshow(np.array(groups)[:, None], aspect='auto', cmap=ListedColormap(colors), vmin=0, vmax=len(colors) - 1,
              interpolation='nearest')
    ax.axis('off')
    return ax


def table(x0, y0, x1, y1, cols, colors, fs):
    ax = box(x0, y0, x1, y1)
    vals = np.array(cols).T
    for r in range(vals.shape[0]):
        for c in range(vals.shape[1]):
            ax.add_patch(Rectangle((c, r), 1, 1, facecolor=colors[r][c], edgecolor="#BEBEBE", lw=1.3))
            ax.text(c + 0.5, r + 0.5, fmt(vals[r, c]), ha='center', va='center', fontsize=fs, fontweight='normal',
                    color="#2A2A2A")
    ax.set_xlim(0, vals.shape[1])
    ax.set_ylim(vals.shape[0], 0)
    ax.axis('off')
    return ax


def violin(ax, c, top, low, mode, spread, half, color):
    y = np.linspace(low, top, 300)
    w = half * np.exp(-0.5 * ((y - mode) / spread) ** 2)
    ax.fill_betweenx(y, c - w, c + w, facecolor=color, edgecolor="#111111", lw=0.7, clip_on=False, zorder=2)
    ax.plot([c, c], [low, top], color="#111111", lw=0.8, clip_on=False, zorder=3)


fig = plt.figure(figsize=(W / 100, H / 100), dpi=100)

# panel A
strip(69, 26, 98, 908, a_group, ["#00C19F", "#FF91A4"])
a_cmap = LinearSegmentedColormap.from_list("a", [(0.0, "#2A6FB4"), (0.03, "#2F77B8"), (0.19, "#7FB6D6"),
                                                 (0.33, "#C5E4EF"), (0.42, "#EAF4DC"), (0.52, "#FFFFBF"),
                                                 (0.68, "#FDD47F"), (0.78, "#FCA55D"), (0.84, "#FB8550"),
                                                 (1.0, "#FF2A1C")])
ax_a = box(107, 26, 282, 908)
ax_a.imshow(np.array([a_col1, a_col2]).T, aspect='auto', cmap=a_cmap, vmin=-0.159, vmax=0.1465, interpolation='nearest')
ax_a.axis('off')
ax_a.yaxis.set_visible(False)
for i, name in enumerate(a_terms):
    ax_a.annotate(name, (1.5, i), xytext=(7, -2), textcoords='offset points', va='center', ha='left', fontsize=20.7,
                  annotation_clip=False, color="#111111")
ax_c = box(1296, 32, 1325, 472)
grad = np.linspace(0.1465, -0.159, 64)[:, None]
ax_c.imshow(grad, aspect='auto', cmap=a_cmap, vmin=-0.159, vmax=0.1465, extent=[0, 1, -0.159, 0.1465])
ax_c.set_xticks([])
ax_c.yaxis.tick_right()
ax_c.set_yticks([0.1, 0.05, 0, -0.05, -0.1, -0.15], ["0.1", "0.05", "0", "\u22120.05", "\u22120.1", "\u22120.15"])
ax_c.tick_params(axis='y', length=0, pad=9, labelsize=20)
for s in ax_c.spines.values():
    s.set_visible(False)

# panel B
b_cols = [b_tcga, b_32548, b_13507, b_48075, b_32894]
b_sigs = [b_sig_tcga, b_sig_32548, b_sig_13507, b_sig_48075, b_sig_32894]
b_colors = [[(NS if not b_sigs[c][r] else (ORANGE if b_cols[c][r] > 0 else LBLUE)) for c in range(5)] for r in range(30)]
strip(1480, 26, 1526, 812, b_group, ["#781CA8", "#00A0FF", "#FF8C00"])
ax_b = table(1534, 26, 1930, 812, b_cols, b_colors, 13.6)
for i, name in enumerate(b_terms):
    ax_b.annotate(name, (5, i + 0.5), xytext=(9, 0), textcoords='offset points', va='center', ha='left', fontsize=16,
                  annotation_clip=False, color="#111111")
for c, name in enumerate(b_sets):
    ax_b.annotate(name, (c + 0.5, 30), xytext=(14, -9), textcoords='offset points', rotation=45, ha='right', va='top',
                  rotation_mode='anchor', fontsize=15.5, annotation_clip=False, color="#222222")

# panel C
n = min(len(s) for s in cell_series)
shares = np.array([s[:n] for s in cell_series], dtype=float)
shares = shares / shares.sum(axis=0) * 100
ax_s = box(203, 970, 2100, 1699)
bottom = np.zeros(n)
for i, name in enumerate(cell_types):
    keep = shares[i] > 0
    if keep.any():
        ax_s.bar(np.arange(n)[keep], shares[i][keep], bottom=bottom[keep], width=0.88, color=cell_colors[i],
                 edgecolor="#262626", lw=0.7)
    bottom += shares[i]
ax_s.set_xlim(-0.5, n - 0.5)
ax_s.set_ylim(0, 100)
ax_s.set_xticks([])
ax_s.set_yticks([0, 20, 40, 60, 80, 100], ["0%", "20%", "40%", "60%", "80%", "100%"])
ax_s.tick_params(axis='y', length=7, width=1.2, pad=5, labelsize=16.5, color="#777777")
ax_s.set_ylabel("Relative Percent", fontsize=18)
ax_s.yaxis.set_label_coords((93 - 203) / 1897, 0.5)
for side in ['top', 'right', 'bottom']:
    ax_s.spines[side].set_visible(False)
ax_s.spines['left'].set_position(('outward', 14.4))
ax_s.spines['left'].set_color("#777777")
ax_s.spines['left'].set_linewidth(1.2)
ax_t = box(203, 927, 2100, 956)
ax_t.broken_barh([(-0.5, n_low), (n_low - 0.5, n - n_low)], (0, 1), facecolors=["#009ACD", "#CC1F1F"])
ax_t.set_xlim(-0.5, n - 0.5)
ax_t.set_ylim(0, 1)
ax_t.axis('off')

# panel D
ax_d = box(183, 1753, 1830, 2391)
px = 1 / 72.6
half_w = [10.5 * px] * 20 + [4 * px] + [10.5 * px]
for i in range(22):
    cl, ch = i - 12.2 * px, i + 12.2 * px
    violin(ax_d, cl, low_max[i], low_min[i], low_mode[i], low_spread[i], half_w[i], BLUE_V)
    violin(ax_d, ch, high_max[i], high_min[i], high_mode[i], high_spread[i], half_w[i], ORANGE_V)
    ax_d.plot([cl, cl], [low_q1[i], low_q3[i]], color="black", lw=2.4, clip_on=False, zorder=4, solid_capstyle='butt')
    ax_d.plot([ch, ch], [high_q1[i], high_q3[i]], color="black", lw=2.4, clip_on=False, zorder=4, solid_capstyle='butt')
    ax_d.plot([cl, ch], [low_med[i], high_med[i]], ls='none', marker='o', ms=8, mfc="white", mec="white",
              clip_on=False, zorder=5)
    top = max(low_max[i], high_max[i])
    ax_d.plot([i - 8 * px, i + 8 * px], [top, top], color="#888888", lw=1.0, clip_on=False)
    ax_d.text(i + 4 * px, top + 0.027, p_labels[i], ha='center', va='center', fontsize=14.5, color="#222222")
    ax_d.annotate(cell_types[i], (i, 0), xytext=(4, -9), textcoords='offset points', rotation=45, ha='right', va='top',
                  rotation_mode='anchor', fontsize=17.5, annotation_clip=False, color="#111111")
ax_d.set_xlim((183 - 254.5) * px, (1830 - 254.5) * px)
ax_d.set_ylim(0, 0.7)
ax_d.set_xticks([])
ax_d.set_yticks([0, 0.1, 0.2, 0.3, 0.4, 0.5, 0.6, 0.7], ["0.0", "0.1", "0.2", "0.3", "0.4", "0.5", "0.6", "0.7"])
ax_d.tick_params(axis='y', length=9, width=1.2, pad=6, labelsize=17, color="#777777")
ax_d.set_ylabel("Fraction", fontsize=19)
ax_d.yaxis.set_label_coords((100 - 183) / 1647, (2391 - 2073) / 638)
for side in ['top', 'right', 'bottom']:
    ax_d.spines[side].set_visible(False)
ax_d.spines['left'].set_color("#777777")
ax_d.spines['left'].set_linewidth(1.2)
ax_d.patch.set_alpha(0)

# panel E
e_cols = [e_tcga, e_32548, e_13507, e_48075, e_32894]
e_sigs = [e_sig_tcga, e_sig_32548, e_sig_13507, e_sig_48075, e_sig_32894]
e_pal = {(1, True): ORANGE, (2, True): RED, (1, False): LBLUE, (2, False): DBLUE}
e_colors = [[(NS if not e_sigs[c][r] else e_pal[(e_sigs[c][r], e_cols[c][r] > 0)]) for c in range(5)] for r in range(24)]
ax_g = strip(1843, 1717, 1891, 2572, e_group, ["#FFA6C9", "#00F57F"])
ax_g.plot([0] * len(e_dot), e_dot, ls='none', marker='o', ms=11.5, color="black")
ax_g.set_xlim(-0.5, 0.5)
ax_e = table(1906, 1717, 2201, 2572, e_cols, e_colors, 14.8)
for i, name in enumerate(e_cells):
    ax_e.annotate(name, (5, i + 0.5), xytext=(9, 0), textcoords='offset points', va='center', ha='left', fontsize=21,
                  annotation_clip=False, color="#111111")
for c, name in enumerate(b_sets):
    ax_e.annotate(name, (c + 0.5, 24), xytext=(12, -9), textcoords='offset points', rotation=45, ha='right', va='top',
                  rotation_mode='anchor', fontsize=14.5, annotation_clip=False, color="#222222")

# free text and legends, in picture pixels
ov = fig.add_axes([0, 0, 1, 1])
ov.set_xlim(0, W)
ov.set_ylim(H, 0)
ov.axis('off')
ov.patch.set_alpha(0)


def label(x, y, s, fs, **kw):
    kw.setdefault('ha', 'left')
    kw.setdefault('color', "#1A1A1A")
    ov.text(x, y, s, fontsize=fs, va='center', **kw)


def swatch(x0, y0, x1, y1, color):
    ov.add_patch(Rectangle((x0, y0), x1 - x0, y1 - y0, facecolor=color, edgecolor='none'))


for x, y, s in [(14, 41, "(A)"), (1423, 44, "(B)"), (13, 944, "(C)"), (15, 1737, "(D)"), (1770, 1737, "(E)")]:
    label(x, y, s, 25, color="black")

label(1051, 587, "Risk Group", 21)
swatch(1051, 621, 1092, 663, "#FF91A4")
swatch(1051, 678, 1092, 721, "#00C19F")
label(1100, 643, "High Risk", 20.8)
label(1100, 698, "Low Risk", 20.8)

label(2248, 267, "GSVA Terms", 18)
for (y0, y1, yt, s, c) in [(288, 322, 302, "Immunophenotype", "#781CA8"), (324, 357, 339, "Phenotype", "#00A0FF"),
                           (360, 393, 374, "Signaling Pathway", "#FF8C00")]:
    swatch(2249, y0, 2282, y1, c)
    label(2294, yt, s, 16)
label(2416, 640, "Correlation", 18, ha='center')
label(2416, 669, "(Risk Score)", 18, ha='center')
for (y0, y1, yt, s, c) in [(697, 728, 713, "0 \u2212 0.4", ORANGE), (732, 765, 748, "\u22120.4 \u2212 0", LBLUE),
                           (768, 800, 785, "P >= 0.05", NS)]:
    swatch(2351, y0, 2384, y1, c)
    label(2394, yt, s, 16.5)

for i, name in enumerate(cell_types):
    y = 979 + 25.2 * i
    swatch(2131, y - 5, 2141, y + 5, cell_colors[i])
    label(2156, y, name, 17.3)
label(2128, 1576, "Risk Group", 17)
swatch(2129, 1606, 2157, 1636, "#CC1F1F")
swatch(2129, 1657, 2157, 1687, "#009ACD")
label(2184, 1622, "High Risk Group", 15.3)
label(2184, 1672, "Low Risk Group", 15.3)

label(751, 1809, "Risk Group", 17)
for y, c, s in [(1885, ORANGE_V, "High Risk Group"), (1961, BLUE_V, "Low Risk Group")]:
    ov.plot([769, 769], [y - 21, y + 21], color="#999999", lw=1.2)
    ov.add_patch(FancyBboxPatch((750, y - 14), 38, 28, boxstyle="round,pad=0,rounding_size=12", mutation_aspect=1,
                                facecolor=c, edgecolor="#555555", lw=1.0, zorder=3))
    ov.plot([750, 788], [y, y], color="#333333", lw=1.2, zorder=4)
    label(820, y, s, 16)

label(2358, 1737, "Prognostic", 17)
swatch(2357, 1761, 2385, 1789, "#00F57F")
swatch(2357, 1794, 2385, 1820, "#FFA6C9")
ov.plot([2370], [1842], marker='o', ms=11, color="black")
label(2394, 1776, "Protective", 17)
label(2394, 1808, "Risk", 17)
label(2394, 1842, "P < 0.05", 17)
label(2336, 2051, "Correlation", 17)
for (y0, y1, yt, s, c) in [(2070, 2101, 2085, "0.3 \u2212 0.7", RED), (2104, 2136, 2121, "0 \u2212 0.3", ORANGE),
                           (2138, 2169, 2156, "\u22120.3 \u2212 0", LBLUE), (2172, 2204, 2190, "\u22120.7 \u2212 \u22120.3", DBLUE),
                           (2207, 2238, 2223, "P >= 0.05", NS)]:
    swatch(2336, y0, 2367, y1, c)
    label(2384, yt, s, 16.5)

fig.savefig("out.png", dpi=100)
